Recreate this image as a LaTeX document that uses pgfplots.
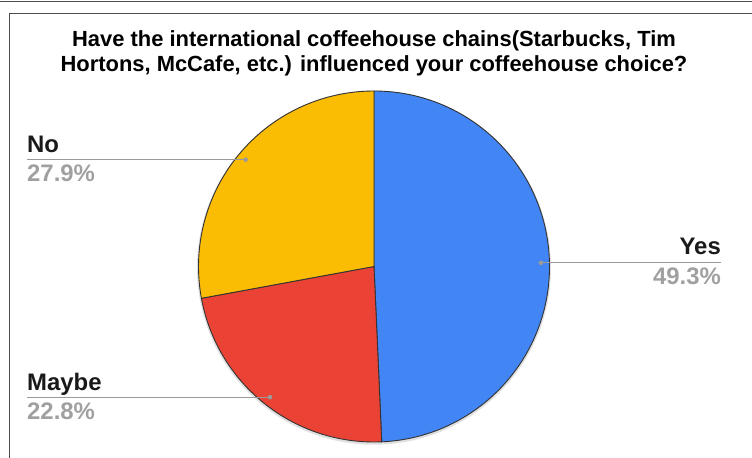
\documentclass[border=0pt]{standalone}
\usepackage{pgfplots}
\pgfplotsset{compat=1.18}
\usepackage{pgfplotstable}
\usepackage{fontspec}
\setmainfont{Liberation Sans}
\definecolor{cyes}{HTML}{4285F4}
\definecolor{cmaybe}{HTML}{EA4335}
\definecolor{cno}{HTML}{FBBC04}
\definecolor{pctgray}{HTML}{A0A0A0}
\definecolor{linegray}{HTML}{9A9A9A}
\definecolor{lblblack}{HTML}{1A1A1A}

\pgfplotstableread{
label value
Yes 49.3
Maybe 22.8
No 27.9
}\piedata

\begin{document}
\begin{tikzpicture}
\pgfplotstablegetelem{0}{value}\of\piedata \pgfmathsetmacro{\vYes}{\pgfplotsretval}
\pgfplotstablegetelem{1}{value}\of\piedata \pgfmathsetmacro{\vMaybe}{\pgfplotsretval}
\pgfplotstablegetelem{2}{value}\of\piedata \pgfmathsetmacro{\vNo}{\pgfplotsretval}
\pgfmathsetmacro{\aA}{90}
\pgfmathsetmacro{\aB}{90-3.6*\vYes}
\pgfmathsetmacro{\aC}{\aB-3.6*\vMaybe}
\pgfmathsetmacro{\aD}{\aC-3.6*\vNo}
\def\cx{374}\def\cy{191.5}\def\R{175.5}\def\rd{167}
\pgfmathsetmacro{\mYes}{(\aA+\aB)/2}
\pgfmathsetmacro{\mMaybe}{(\aB+\aC)/2}
\pgfmathsetmacro{\mNo}{(\aC+\aD)/2}
\pgfmathsetmacro{\dYx}{\cx+\rd*cos(\mYes)}\pgfmathsetmacro{\dYy}{\cy+\rd*sin(\mYes)}
\pgfmathsetmacro{\dMx}{\cx+\rd*cos(\mMaybe)}\pgfmathsetmacro{\dMy}{\cy+\rd*sin(\mMaybe)}
\pgfmathsetmacro{\dNx}{\cx+\rd*cos(\mNo)}\pgfmathsetmacro{\dNy}{\cy+\rd*sin(\mNo)}
\begin{axis}[width=752bp,height=458bp,scale only axis,
  xmin=0,xmax=752,ymin=0,ymax=458,hide axis,clip=false]
% frame
\draw[black!70, line width=1.3bp] (axis cs:0,456.3) -- (axis cs:752,456.3);
\draw[black!70, line width=1.3bp] (axis cs:9.5,0) -- (axis cs:9.5,444.5) -- (axis cs:752,444.5);
% title
\node[anchor=base, font=\bfseries\fontsize{22}{26}\selectfont, text=black] at (axis cs:374,411)
  {Have the international coffeehouse chains(Starbucks, Tim};
\node[anchor=base, font=\bfseries\fontsize{22}{26}\selectfont, text=black] at (axis cs:374,386)
  {Hortons, McCafe, etc.) influenced your coffeehouse choice?};
% shadow
\fill[black!12] (axis cs:\cx,\cy-1.2) circle[radius=177bp];
% slices
\filldraw[fill=cyes, draw=black!80, line width=0.9bp] (axis cs:\cx,\cy) -- ++(\aA:\R bp)
  arc[start angle=\aA, end angle=\aB, radius=\R bp] -- cycle;
\filldraw[fill=cmaybe, draw=black!80, line width=0.9bp] (axis cs:\cx,\cy) -- ++(\aB:\R bp)
  arc[start angle=\aB, end angle=\aC, radius=\R bp] -- cycle;
\filldraw[fill=cno, draw=black!80, line width=0.9bp] (axis cs:\cx,\cy) -- ++(\aC:\R bp)
  arc[start angle=\aC, end angle=\aD, radius=\R bp] -- cycle;
% leader lines
\draw[linegray, line width=1.2bp] (axis cs:\dYx,\dYy) -- (axis cs:721,\dYy);
\fill[linegray] (axis cs:\dYx,\dYy) circle[radius=2.3bp];
\draw[linegray, line width=1.2bp] (axis cs:27,\dNy) -- (axis cs:\dNx,\dNy);
\fill[linegray] (axis cs:\dNx,\dNy) circle[radius=2.3bp];
\draw[linegray, line width=1.2bp] (axis cs:27,\dMy) -- (axis cs:\dMx,\dMy);
\fill[linegray] (axis cs:\dMx,\dMy) circle[radius=2.3bp];
% labels
\node[anchor=base east, inner sep=0pt, font=\bfseries\fontsize{24}{28}\selectfont, text=lblblack] at (axis cs:721,203) {Yes};
\node[anchor=base east, inner sep=0pt, font=\bfseries\fontsize{24}{28}\selectfont, text=pctgray] at (axis cs:721,173) {\vYes\%};
\node[anchor=base west, inner sep=0pt, font=\bfseries\fontsize{24}{28}\selectfont, text=lblblack] at (axis cs:27,305) {No};
\node[anchor=base west, inner sep=0pt, font=\bfseries\fontsize{24}{28}\selectfont, text=pctgray] at (axis cs:27,276) {\vNo\%};
\node[anchor=base west, inner sep=0pt, font=\bfseries\fontsize{24}{28}\selectfont, text=lblblack] at (axis cs:27,67.5) {Maybe};
\node[anchor=base west, inner sep=0pt, font=\bfseries\fontsize{24}{28}\selectfont, text=pctgray] at (axis cs:27,38) {\vMaybe\%};
\end{axis}
\pgfresetboundingbox
\path[use as bounding box] (current axis.south west) rectangle (current axis.north east);
\end{tikzpicture}
\end{document}
